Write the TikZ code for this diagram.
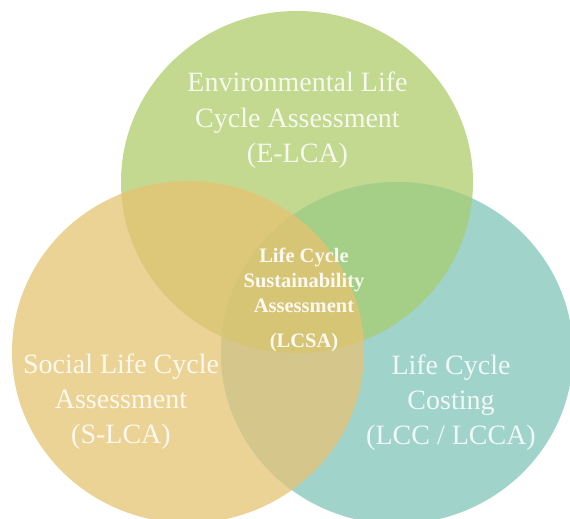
\documentclass[tikz,border=0pt]{standalone}
\usepackage{fontspec}
\setmainfont{Liberation Serif}
\definecolor{cG}{HTML}{C2D98F}
\definecolor{cO}{HTML}{EAD395}
\definecolor{cT}{HTML}{A0D4CA}
\definecolor{cGO}{HTML}{DDC778}
\definecolor{cGT}{HTML}{A5CF86}
\definecolor{cOT}{HTML}{D5C78C}
\definecolor{cGOT}{HTML}{D7C576}
\def\shpGreen{(297,182) ellipse [x radius=176pt, y radius=171pt]}
\def\shpOrange{(188,352) ellipse [x radius=176pt, y radius=171pt]}
\def\shpTeal{(397,353) ellipse [x radius=176pt, y radius=171pt]}
\tikzset{
  outerlbl/.style={font=\fontsize{28}{34}\selectfont, text=white, text opacity=0.85, anchor=base, inner sep=0pt},
  centerlbl/.style={font=\fontsize{20.5}{25}\selectfont\bfseries, text=white, text opacity=0.9, anchor=base, inner sep=0pt}
}
\begin{document}
\begin{tikzpicture}[x=1pt, y=-1pt]
\fill[white] (0,0) rectangle (570,519);
\useasboundingbox (0,0) rectangle (570,519);
% circles
\fill[cG] \shpGreen;
\fill[cO] \shpOrange;
\fill[cT] \shpTeal;
\begin{scope}
  \clip \shpGreen;
  \fill[cGO] \shpOrange;
\end{scope}
\begin{scope}
  \clip \shpGreen;
  \fill[cGT] \shpTeal;
\end{scope}
\begin{scope}
  \clip \shpOrange;
  \fill[cOT] \shpTeal;
\end{scope}
\begin{scope}
  \clip \shpGreen;
  \clip \shpOrange;
  \fill[cGOT] \shpTeal;
\end{scope}
% E-LCA
\node[outerlbl] (e1) at (297.5,92) {Environmental Life};
\node[outerlbl] (e2) at (297.5,127) {Cycle Assessment};
\node[outerlbl] (e3) at (297.5,162) {(E-LCA)};
% S-LCA
\node[outerlbl] (s1) at (121,373) {Social Life Cycle};
\node[outerlbl] (s2) at (121,408) {Assessment};
\node[outerlbl] (s3) at (121,443) {(S-LCA)};
% LCC
\node[outerlbl] (c1) at (451,374) {Life Cycle};
\node[outerlbl] (c2) at (451,409) {Costing};
\node[outerlbl] (c3) at (451,444) {(LCC / LCCA)};
% LCSA
\node[centerlbl] (l1) at (304,262) {Life Cycle};
\node[centerlbl] (l2) at (304,287) {Sustainability};
\node[centerlbl] (l3) at (304,312) {Assessment};
\node[centerlbl] (l4) at (304,347) {(LCSA)};
\end{tikzpicture}
\end{document}
